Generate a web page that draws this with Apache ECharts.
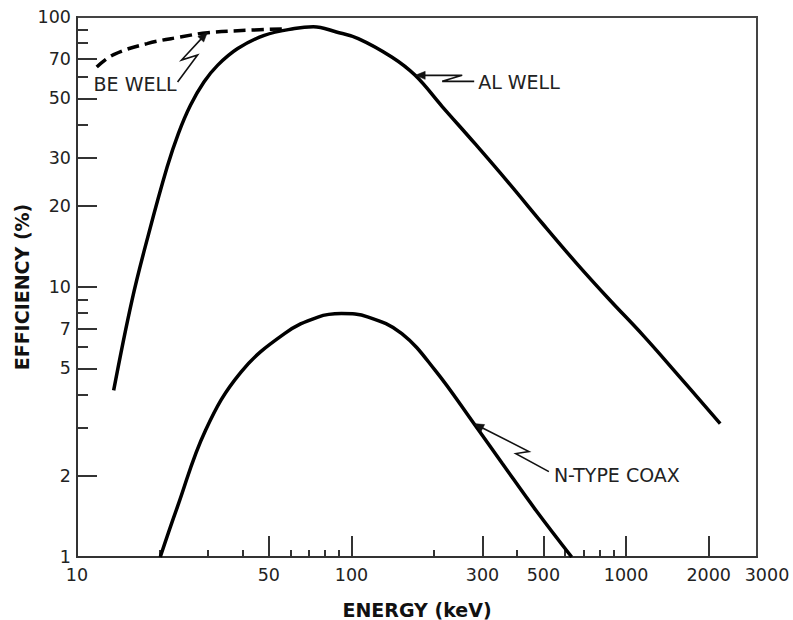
<!DOCTYPE html>
<html><head><meta charset="utf-8">
<script src="https://cdn.jsdelivr.net/npm/echarts@6/dist/echarts.min.js"></script>
<style>html,body{margin:0;padding:0;background:#fff}#c{width:793px;height:620px}</style>
</head><body><div id="c"></div>
<script>
// ---- data ----
const xLabelValues = [10, 50, 100, 300, 500, 1000, 2000, 3000];
const xMajorTicks = [50, 100, 300, 500, 1000, 2000];
const xMinorTicks = [20, 30, 40, 60, 70, 80, 90, 200, 400, 600, 700, 800, 900];
const yLabelValues = [1, 2, 5, 7, 10, 20, 30, 50, 70, 100];
const yMajorTicks = [2, 5, 7, 10, 20, 30, 50, 70];
const yMinorTicks = [3, 4, 6, 8, 9, 40, 60, 80, 90];

const alWell = [
  [13.6, 4.14], [15.86, 8.93], [18.25, 15.77], [21.3, 27.8], [23.4, 37.0],
  [25.9, 47.1], [29.0, 57.4], [32.5, 66.2], [38.5, 76.4], [48.1, 85.5],
  [62.0, 90.6], [72.6, 92.0], [88.1, 88.0], [105.8, 83.2], [140.1, 71.1],
  [170.6, 60.8], [213.6, 46.7], [282.8, 33.8], [375, 24.2], [497, 17.15],
  [658, 12.29], [871, 8.97], [1154, 6.62], [1528, 4.79], [2203, 3.12]
];
const beWell = [
  [11.8, 65.3], [13.6, 72.6], [18.0, 79.7], [23.8, 84.3], [29.9, 87.5],
  [41.8, 89.3], [57, 90.4]
];
const nTypeCoax = [
  [20.1, 1.0], [23.2, 1.53], [29.4, 2.95], [39.5, 4.83], [57.0, 6.72],
  [75.5, 7.74], [91.9, 7.97], [115.1, 7.74], [152.5, 6.72], [201.8, 4.91],
  [279.1, 3.12], [354.3, 2.22], [469.4, 1.49], [634, 1.0]
];
// annotation anchor (arrow tip) in data coordinates
const annotationTexts = ['BE WELL', 'AL WELL', 'N-TYPE COAX'];
const annotationTips = [[29.9, 88.0], [170.6, 60.8], [279.1, 3.12]];

// ---- style / layout helpers (pixel offsets relative to tip) ----
const annotationShapes = [
  { path: [[-30, 50], [-10, 23], [-26, 28], [0, 0]], text: [-114, 52] },
  { path: [[59, 6], [27, 6], [47, 0], [0, 0]], text: [63, 7] },
  { path: [[75, 48], [42, 30], [55, 28], [0, 0]], text: [80, 51] }
];

const FONT = '"DejaVu Sans", Verdana, sans-serif';
const AX = '#333';

const chart = echarts.init(document.getElementById('c'), null, { renderer: 'svg' });

function xlab(v) {
  const s = String(Math.round(v));
  return Math.round(v) === 3000 ? '{r|' + s + '}' : s;
}
function ylab(v) { return String(Math.round(v)); }

const option = {
  animation: false,
  backgroundColor: '#fff',
  grid: {
    left: 77, top: 17, width: 680, height: 540, show: true, borderColor: '#444', borderWidth: 2,
    backgroundColor: 'transparent', outerBoundsMode: 'none', containLabel: false
  },
  xAxis: [
    {
      type: 'log', logBase: 10, min: 10, max: 3000, position: 'bottom',
      axisLine: { show: true, lineStyle: { color: AX, width: 2 } },
      axisTick: { show: true, inside: true, length: 21, customValues: xMajorTicks, lineStyle: { color: AX, width: 2 } },
      axisLabel: {
        customValues: xLabelValues, formatter: xlab, margin: 9, fontSize: 17.5, fontFamily: FONT, color: '#222',
        rich: { r: { fontSize: 17.5, fontFamily: FONT, color: '#222', padding: [0, 0, 0, 20] } }
      },
      splitLine: { show: false },
      name: 'ENERGY (keV)', nameLocation: 'middle', nameGap: 43, nameMoveOverlap: false,
      nameTextStyle: { fontWeight: 'bold', fontSize: 19, fontFamily: FONT, color: '#111' }
    },
    {
      type: 'log', logBase: 10, min: 10, max: 3000, position: 'bottom',
      axisLine: { show: false },
      axisTick: { show: true, inside: true, length: 7, customValues: xMinorTicks, lineStyle: { color: AX, width: 2 } },
      axisLabel: { show: false },
      splitLine: { show: false }
    }
  ],
  yAxis: [
    {
      type: 'log', logBase: 10, min: 1, max: 100, position: 'left',
      axisLine: { show: true, lineStyle: { color: AX, width: 2 } },
      axisTick: { show: true, inside: true, length: 20, customValues: yMajorTicks, lineStyle: { color: AX, width: 2 } },
      axisLabel: { customValues: yLabelValues, formatter: ylab, margin: 6, fontSize: 17.5, fontFamily: FONT, color: '#222' },
      splitLine: { show: false },
      name: 'EFFICIENCY (%)', nameLocation: 'middle', nameGap: 46, nameMoveOverlap: false,
      nameTextStyle: { fontWeight: 'bold', fontSize: 19, fontFamily: FONT, color: '#111' }
    },
    {
      type: 'log', logBase: 10, min: 1, max: 100, position: 'left',
      axisLine: { show: false },
      axisTick: { show: true, inside: true, length: 11, customValues: yMinorTicks, lineStyle: { color: AX, width: 2 } },
      axisLabel: { show: false },
      splitLine: { show: false }
    }
  ],
  series: [
    {
      name: 'AL WELL', type: 'line', data: alWell, showSymbol: false, smooth: 0.4,
      lineStyle: { color: '#000', width: 3.5 }, z: 3
    },
    {
      name: 'BE WELL', type: 'line', data: beWell, showSymbol: false, smooth: 0.4,
      lineStyle: { color: '#000', width: 3.5, type: [12, 6] }, z: 3
    },
    {
      name: 'N-TYPE COAX', type: 'line', data: nTypeCoax, showSymbol: false, smooth: 0.4,
      lineStyle: { color: '#000', width: 3.5 }, z: 3
    },
    {
      name: 'annotations', type: 'custom', clip: false, z: 4,
      data: annotationTips.map((t, i) => [t[0], t[1], i]),
      renderItem: function (params, api) {
        const i = api.value(2);
        const tip = api.coord([api.value(0), api.value(1)]);
        const sh = annotationShapes[i];
        const pts = sh.path.map(p => [tip[0] + p[0], tip[1] + p[1]]);
        const prev = pts[pts.length - 2];
        const ang = Math.atan2(tip[1] - prev[1], tip[0] - prev[0]);
        const L = 10, W = 4;
        const bx = tip[0] - L * Math.cos(ang), by = tip[1] - L * Math.sin(ang);
        const nx = -Math.sin(ang) * W, ny = Math.cos(ang) * W;
        return {
          type: 'group',
          children: [
            { type: 'polyline', shape: { points: pts.slice(0, -1).concat([[bx + (tip[0]-bx)*0.3, by + (tip[1]-by)*0.3]]) }, style: { stroke: '#111', lineWidth: 1.6, fill: null } },
            { type: 'polygon', shape: { points: [tip, [bx + nx, by + ny], [bx - nx, by - ny]] }, style: { fill: '#111', stroke: '#111', lineWidth: 0.5 } },
            { type: 'text', style: { text: annotationTexts[i], x: tip[0] + sh.text[0], y: tip[1] + sh.text[1], fontSize: 19, fontFamily: FONT, fill: '#222', align: 'left', verticalAlign: 'middle' } }
          ]
        };
      }
    }
  ]
};
chart.setOption(option);
</script>
</body></html>
